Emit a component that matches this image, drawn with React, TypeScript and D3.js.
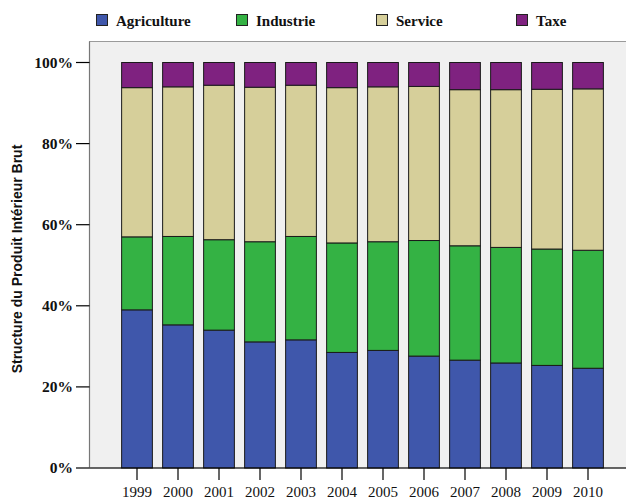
import React from "react";
import * as d3 from "d3";

const years = ["1999","2000","2001","2002","2003","2004","2005","2006","2007","2008","2009","2010"];
const seriesNames = ["Agriculture","Industrie","Service","Taxe"];
const seriesColors = ["#3f57ab","#34b244","#d6cf9a","#7f2280"];
// shares in percent
const agriculture = [39.0,35.3,34.0,31.1,31.6,28.5,29.0,27.6,26.6,25.9,25.3,24.6];
const industrie   = [18.0,21.8,22.3,24.7,25.5,27.0,26.8,28.5,28.2,28.5,28.7,29.1];
const service     = [36.8,36.9,38.1,38.1,37.3,38.3,38.2,38.0,38.5,38.9,39.4,39.8];
const taxe        = [6.2,6.0,5.6,6.1,5.6,6.2,6.0,5.9,6.7,6.7,6.6,6.5];
const yTicks = [0,20,40,60,80,100];

export default function App() {
  const W = 626, H = 499;
  const left = 89.5, top = 62.5, bottom = 468, right = 630;
  const x = d3.scaleBand<string>().domain(years).range([116.5, 608.5]).paddingInner(0.25).paddingOuter(0.125);
  const y = d3.scaleLinear().domain([0, 100]).range([bottom, top]);
  const rows = years.map((yr, i) => ({ year: yr, Agriculture: agriculture[i], Industrie: industrie[i], Service: service[i], Taxe: taxe[i] }));
  const stack = d3.stack<any>().keys(seriesNames).offset(d3.stackOffsetExpand);
  const layers = stack(rows);
  const serif = "'Liberation Serif', 'Times New Roman', serif";
  return (
    <svg width={W} height={H} style={{ position: "absolute", left: 0, top: 0, background: "#fff" }}>
      <rect x={0} y={0} width={W} height={H} fill="#ffffff" />
      {/* plot frame */}
      <rect x={left} y={41.5} width={right - left} height={bottom - 41.5} fill="#f0f0f0" stroke="#9a9a9a" strokeWidth={1} />
      {/* bars */}
      {layers.map((layer, si) => (
        <g key={si}>
          {layer.map((d, i) => (
            <rect key={i} x={x(years[i])} width={x.bandwidth()} y={y(d[1] * 100)} height={y(d[0] * 100) - y(d[1] * 100)}
              fill={seriesColors[si]} stroke="#1a1a1a" strokeWidth={1} />
          ))}
        </g>
      ))}
      {/* axes */}
      <line x1={left} x2={W} y1={bottom} y2={bottom} stroke="#000" strokeWidth={1.2} />
      <line x1={left} x2={left} y1={41.5} y2={bottom} stroke="#777" strokeWidth={1.2} />
      {yTicks.map(t => (
        <g key={t}>
          <line x1={76} x2={left} y1={y(t)} y2={y(t)} stroke="#000" strokeWidth={1.2} />
          <text x={73} y={y(t) + 5} textAnchor="end" fontFamily={serif} fontWeight="bold" fontSize={15.5} fill="#111">{t}%</text>
        </g>
      ))}
      {years.map(yr => (
        <g key={yr}>
          <line x1={x(yr)! + x.bandwidth() / 2} x2={x(yr)! + x.bandwidth() / 2} y1={bottom} y2={480} stroke="#000" strokeWidth={1.2} />
          <text x={x(yr)! + x.bandwidth() / 2} y={497} textAnchor="middle" fontFamily={serif} fontSize={15} fill="#111">{yr}</text>
        </g>
      ))}
      <text transform={`translate(22, 259) rotate(-90)`} textAnchor="middle" fontFamily="'Liberation Sans', Arial, sans-serif" fontWeight="bold" fontSize={14} fill="#111">Structure du Produit Intérieur Brut</text>
      {/* legend */}
      {seriesNames.map((s, i) => (
        <g key={s} transform={`translate(${96 + i * 140}, 0)`}>
          <rect x={0.5} y={14.5} width={11} height={11} fill={seriesColors[i]} stroke="#222" strokeWidth={1} />
          <text x={20} y={26} fontFamily={serif} fontWeight="bold" fontSize={15} fill="#111">{s}</text>
        </g>
      ))}
    </svg>
  );
}
